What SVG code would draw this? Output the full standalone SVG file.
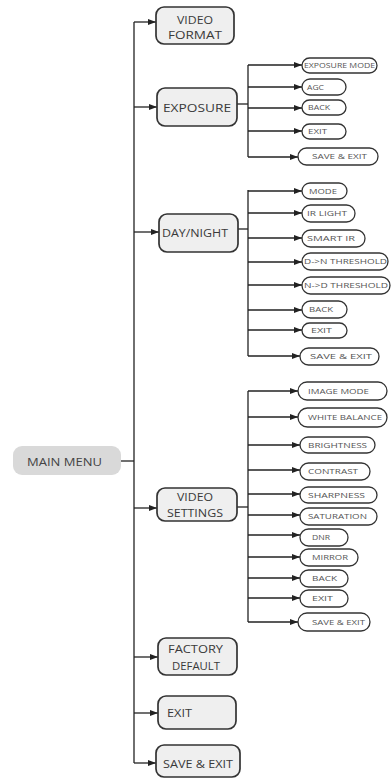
<svg xmlns="http://www.w3.org/2000/svg" width="392" height="779" viewBox="0 0 392 779">
<style>
.main rect{fill:#efefef;stroke:#333;stroke-width:1.7}
.sub rect{fill:#fff;stroke:#333;stroke-width:1.3}
text{font-family:"Open Sans",sans-serif}
.main text{font-size:11.5px;fill:#3a3a3a}
.sub text{font-size:7.4px;fill:#555}
.root rect{fill:#d9d9d9}
.root text{font-size:11.5px;fill:#444}
#connectors path{fill:none;stroke:#222;stroke-width:1.3}
#connectors path.a{marker-end:url(#arr)}
</style>
<defs>
<marker id="arr" viewBox="0 0 8 6" refX="8" refY="3" markerWidth="8" markerHeight="6" markerUnits="userSpaceOnUse" orient="auto">
<path d="M0,0 L8,3 L0,6 Z" fill="#222"/>
</marker>
</defs>
<g id="connectors">
<path d="M121,461 H134"/>
<path d="M134,22 V763"/>
<path class="a" d="M134,22 H156"/>
<path class="a" d="M134,107 H157"/>
<path class="a" d="M134,232 H159"/>
<path class="a" d="M134,508 H157"/>
<path class="a" d="M134,657 H158"/>
<path class="a" d="M134,713 H158"/>
<path class="a" d="M134,763 H156"/>
<path d="M237,104 H248"/>
<path d="M248,65 V157"/>
<path class="a" d="M248,65 H302"/>
<path class="a" d="M248,87 H302"/>
<path class="a" d="M248,108 H302"/>
<path class="a" d="M248,131 H302"/>
<path class="a" d="M248,157 H298"/>
<path d="M238,229 H248"/>
<path d="M248,190 V356"/>
<path class="a" d="M248,191 H302"/>
<path class="a" d="M248,213 H302"/>
<path class="a" d="M248,238 H302"/>
<path class="a" d="M248,262 H302"/>
<path class="a" d="M248,285 H302"/>
<path class="a" d="M248,310 H302"/>
<path class="a" d="M248,330 H302"/>
<path class="a" d="M248,356 H300"/>
<path d="M237,507 H248"/>
<path d="M248,391 V622"/>
<path class="a" d="M248,391 H298"/>
<path class="a" d="M248,417 H298"/>
<path class="a" d="M248,445 H300"/>
<path class="a" d="M248,470 H300"/>
<path class="a" d="M248,494 H300"/>
<path class="a" d="M248,515 H300"/>
<path class="a" d="M248,535 H300"/>
<path class="a" d="M248,557 H300"/>
<path class="a" d="M248,578 H300"/>
<path class="a" d="M248,598 H300"/>
<path class="a" d="M248,622 H298"/>
</g>
<g id="main-menu" class="root"><rect x="13" y="446" width="108" height="29" rx="9"/><text x="27" y="465.5" textLength="75" lengthAdjust="spacingAndGlyphs">MAIN MENU</text></g>
<g id="video-format" class="main"><rect x="156" y="7" width="78" height="37" rx="8"/><text x="177" y="23.5" textLength="36" lengthAdjust="spacingAndGlyphs">VIDEO</text><text x="168" y="38.5" textLength="54" lengthAdjust="spacingAndGlyphs">FORMAT</text></g>
<g id="exposure" class="main"><rect x="157" y="88" width="80" height="38" rx="8"/><text x="163" y="112" textLength="68" lengthAdjust="spacingAndGlyphs">EXPOSURE</text></g>
<g id="day-night" class="main"><rect x="159" y="214" width="79" height="38" rx="8"/><text x="162" y="237" textLength="66" lengthAdjust="spacingAndGlyphs">DAY/NIGHT</text></g>
<g id="video-settings" class="main"><rect x="157" y="488" width="80" height="33" rx="8"/><text x="177" y="501" textLength="36" lengthAdjust="spacingAndGlyphs">VIDEO</text><text x="167" y="516.5" textLength="56" lengthAdjust="spacingAndGlyphs">SETTINGS</text></g>
<g id="factory-default" class="main"><rect x="158" y="638" width="79" height="37" rx="8"/><text x="168" y="653" textLength="55" lengthAdjust="spacingAndGlyphs">FACTORY</text><text x="172" y="669.5" textLength="48" lengthAdjust="spacingAndGlyphs">DEFAULT</text></g>
<g id="exit" class="main"><rect x="158" y="696" width="78" height="33" rx="8"/><text x="167" y="716.5" textLength="25" lengthAdjust="spacingAndGlyphs">EXIT</text></g>
<g id="save-exit" class="main"><rect x="156" y="745" width="84" height="32" rx="8"/><text x="163" y="767.5" textLength="70" lengthAdjust="spacingAndGlyphs">SAVE &amp; EXIT</text></g>
<g id="exp-mode" class="sub"><rect x="302" y="58" width="75" height="15" rx="7.5"/><text x="304" y="68.2" textLength="71" lengthAdjust="spacingAndGlyphs">EXPOSURE MODE</text></g>
<g id="exp-agc" class="sub"><rect x="302" y="79" width="44" height="16" rx="8"/><text x="307" y="89.7" textLength="17" lengthAdjust="spacingAndGlyphs">AGC</text></g>
<g id="exp-back" class="sub"><rect x="302" y="100" width="44" height="15" rx="7.5"/><text x="308" y="110.2" textLength="22" lengthAdjust="spacingAndGlyphs">BACK</text></g>
<g id="exp-exit" class="sub"><rect x="302" y="124" width="44" height="15" rx="7.5"/><text x="308" y="134.2" textLength="19" lengthAdjust="spacingAndGlyphs">EXIT</text></g>
<g id="exp-save" class="sub"><rect x="298" y="148" width="80" height="17" rx="8.5"/><text x="312" y="159.2" textLength="55" lengthAdjust="spacingAndGlyphs">SAVE &amp; EXIT</text></g>
<g id="dn-mode" class="sub"><rect x="302" y="183" width="45" height="16" rx="8"/><text x="309" y="193.7" textLength="28" lengthAdjust="spacingAndGlyphs">MODE</text></g>
<g id="dn-irlight" class="sub"><rect x="302" y="205" width="53" height="17" rx="8.5"/><text x="307" y="216.2" textLength="40" lengthAdjust="spacingAndGlyphs">IR LIGHT</text></g>
<g id="dn-smartir" class="sub"><rect x="302" y="230" width="63" height="17" rx="8.5"/><text x="307" y="241.2" textLength="48" lengthAdjust="spacingAndGlyphs">SMART IR</text></g>
<g id="dn-dn" class="sub"><rect x="302" y="253" width="86" height="17" rx="8.5"/><text x="304" y="264.2" textLength="83" lengthAdjust="spacingAndGlyphs">D-&gt;N THRESHOLD</text></g>
<g id="dn-nd" class="sub"><rect x="302" y="277" width="88" height="17" rx="8.5"/><text x="304" y="288.2" textLength="84" lengthAdjust="spacingAndGlyphs">N-&gt;D THRESHOLD</text></g>
<g id="dn-back" class="sub"><rect x="302" y="301" width="45" height="17" rx="8.5"/><text x="309" y="312.2" textLength="24" lengthAdjust="spacingAndGlyphs">BACK</text></g>
<g id="dn-exit" class="sub"><rect x="302" y="323" width="45" height="15" rx="7.5"/><text x="311" y="333.2" textLength="21" lengthAdjust="spacingAndGlyphs">EXIT</text></g>
<g id="dn-save" class="sub"><rect x="300" y="348" width="79" height="17" rx="8.5"/><text x="310" y="359.2" textLength="62" lengthAdjust="spacingAndGlyphs">SAVE &amp; EXIT</text></g>
<g id="vs-image" class="sub"><rect x="298" y="382" width="89" height="18" rx="9"/><text x="308" y="393.7" textLength="61" lengthAdjust="spacingAndGlyphs">IMAGE MODE</text></g>
<g id="vs-wb" class="sub"><rect x="298" y="408" width="89" height="19" rx="9.5"/><text x="308" y="420.2" textLength="74" lengthAdjust="spacingAndGlyphs">WHITE BALANCE</text></g>
<g id="vs-bright" class="sub"><rect x="300" y="437" width="75" height="16" rx="8"/><text x="308" y="447.7" textLength="59" lengthAdjust="spacingAndGlyphs">BRIGHTNESS</text></g>
<g id="vs-contrast" class="sub"><rect x="300" y="463" width="70" height="17" rx="8.5"/><text x="308" y="474.2" textLength="50" lengthAdjust="spacingAndGlyphs">CONTRAST</text></g>
<g id="vs-sharp" class="sub"><rect x="300" y="487" width="77" height="16" rx="8"/><text x="308" y="497.7" textLength="57" lengthAdjust="spacingAndGlyphs">SHARPNESS</text></g>
<g id="vs-sat" class="sub"><rect x="300" y="508" width="77" height="17" rx="8.5"/><text x="308" y="519.2" textLength="59" lengthAdjust="spacingAndGlyphs">SATURATION</text></g>
<g id="vs-dnr" class="sub"><rect x="300" y="529" width="48" height="17" rx="8.5"/><text x="312" y="540.2" textLength="18" lengthAdjust="spacingAndGlyphs">DNR</text></g>
<g id="vs-mirror" class="sub"><rect x="300" y="549" width="58" height="17" rx="8.5"/><text x="312" y="560.2" textLength="36" lengthAdjust="spacingAndGlyphs">MIRROR</text></g>
<g id="vs-back" class="sub"><rect x="300" y="570" width="48" height="17" rx="8.5"/><text x="312" y="581.2" textLength="25" lengthAdjust="spacingAndGlyphs">BACK</text></g>
<g id="vs-exit" class="sub"><rect x="300" y="590" width="48" height="17" rx="8.5"/><text x="312" y="601.2" textLength="21" lengthAdjust="spacingAndGlyphs">EXIT</text></g>
<g id="vs-save" class="sub"><rect x="298" y="613" width="72" height="18" rx="9"/><text x="312" y="624.7" textLength="53" lengthAdjust="spacingAndGlyphs">SAVE &amp; EXIT</text></g>
</svg>
